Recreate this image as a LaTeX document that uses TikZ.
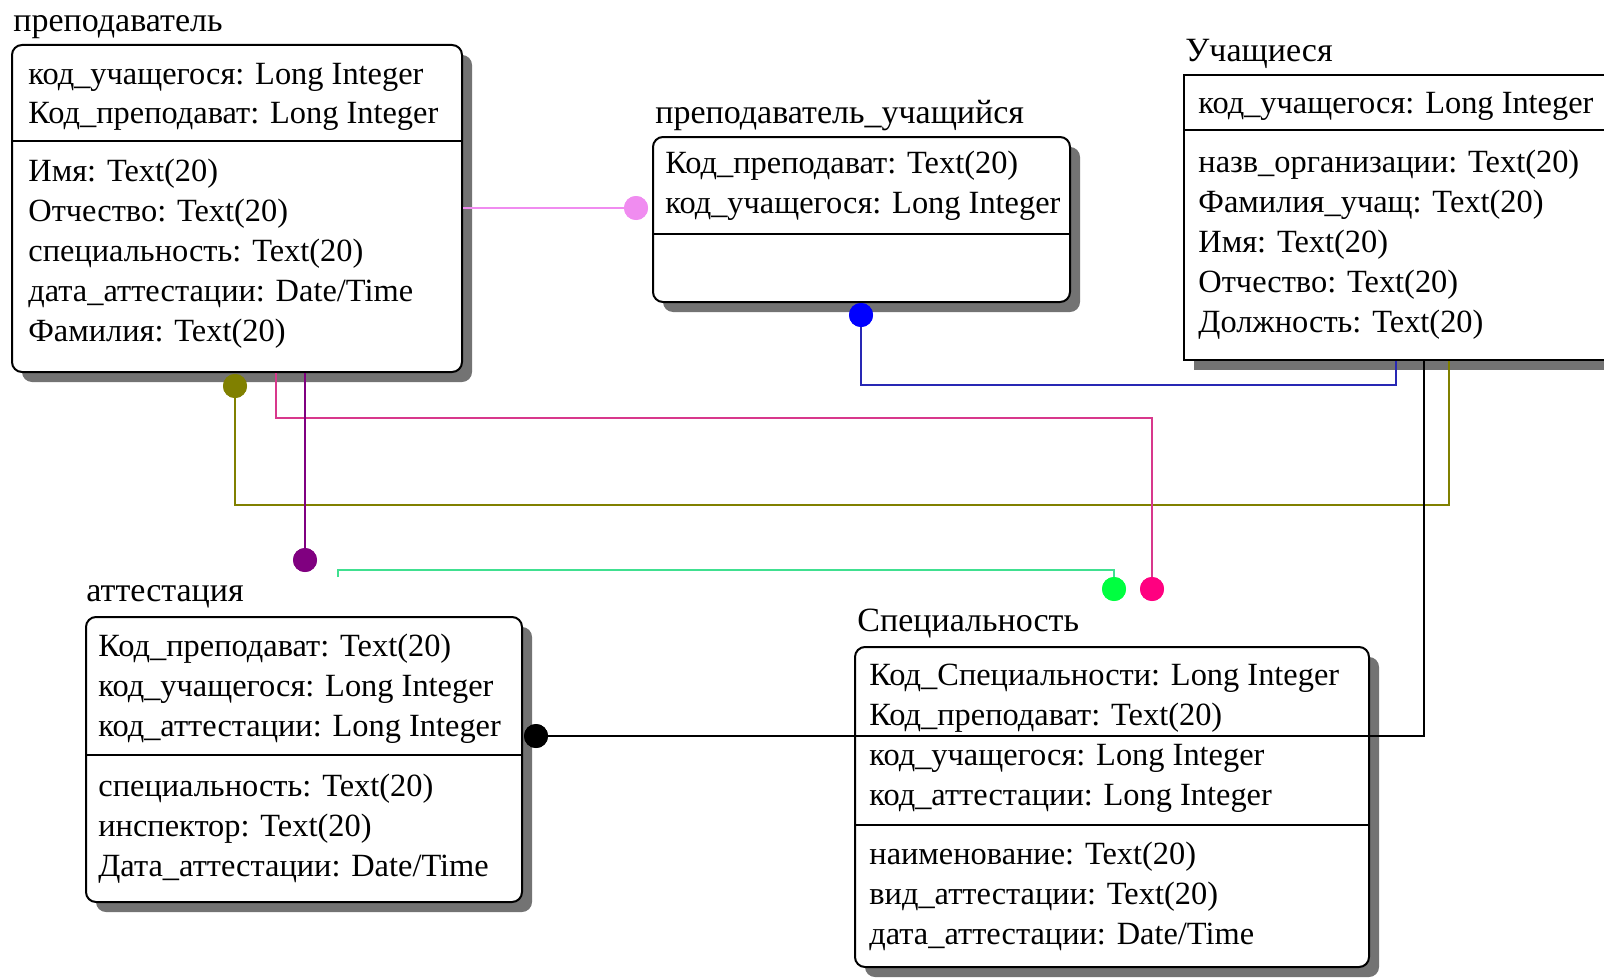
\documentclass[tikz,border=0pt]{standalone}
\usepackage{fontspec}
\setmainfont{Liberation Serif}
\usetikzlibrary{fit, shadows}
\definecolor{orchidline}{HTML}{F08CF0}
\definecolor{bluedot}{HTML}{0000FF}
\definecolor{blueline}{HTML}{2828B4}
\definecolor{olivedot}{HTML}{808000}
\definecolor{roseline}{HTML}{D8388C}
\definecolor{rosedot}{HTML}{FF0080}
\definecolor{purpledot}{HTML}{800080}
\definecolor{greenline}{HTML}{40E090}
\definecolor{greendot}{HTML}{00FF40}

\begin{document}
\begin{tikzpicture}[
  x=0.5pt, y=-0.5pt,
  tbl/.style={draw, line width=1pt, fill=white, rounded corners=5pt, inner sep=0pt,
    drop shadow={shadow xshift=5pt, shadow yshift=-5pt, fill=black!55, opacity=1}},
  fld/.style={anchor=base west, inner sep=0pt, align=left, font=\fontsize{16.2}{20}\selectfont},
  ttl/.style={anchor=base west, inner sep=0pt, font=\fontsize{17}{20}\selectfont},
  sep/.style={line width=0.9pt},
  link/.style={line width=0.9pt},
  dot/.style={circle, inner sep=0pt, minimum size=12pt}
]
\useasboundingbox (0,0) rectangle (1604,979);
\clip (0,0) rectangle (1604,979);

% tables (field nodes sit on the baseline of their last line)
\node[tbl, fit={(12,45) (462,372)}] (prep) {};
\node[ttl] (prepname) at (13,32) {преподаватель};
\node[fld] (prepkey) at (28,124) {код\_учащегося: Long Integer\\Код\_преподават: Long Integer};
\node[fld] (prepattr) at (28,341) {Имя: Text(20)\\Отчество: Text(20)\\специальность: Text(20)\\дата\_аттестации: Date/Time\\Фамилия: Text(20)};
\draw[sep] (prep.west |- 0,141) -- (prep.east |- 0,141);

\node[tbl, fit={(653,137) (1070,302)}] (pu) {};
\node[ttl] (puname) at (655,124) {преподаватель\_учащийся};
\node[fld] (pukey) at (665,213) {Код\_преподават: Text(20)\\код\_учащегося: Long Integer};
\draw[sep] (pu.west |- 0,234) -- (pu.east |- 0,234);

\node[tbl, rounded corners=0pt, fit={(1184,75) (1650,360)}] (stud) {};
\node[ttl] (studname) at (1185,62) {Учащиеся};
\node[fld] (studkey) at (1198,113) {код\_учащегося: Long Integer};
\node[fld] (studattr) at (1198,332) {назв\_организации: Text(20)\\Фамилия\_учащ: Text(20)\\Имя: Text(20)\\Отчество: Text(20)\\Должность: Text(20)};
\draw[sep] (stud.west |- 0,130) -- (stud.east |- 0,130);

\node[tbl, fit={(86,617) (522,902)}] (att) {};
\node[ttl] (attname) at (86,601) {аттестация};
\node[fld] (attkey) at (98,736) {Код\_преподават: Text(20)\\код\_учащегося: Long Integer\\код\_аттестации: Long Integer};
\node[fld] (attattr) at (98,876) {специальность: Text(20)\\инспектор: Text(20)\\Дата\_аттестации: Date/Time};
\draw[sep] (att.west |- 0,755) -- (att.east |- 0,755);

\node[tbl, fit={(855,647) (1369,967)}] (spec) {};
\node[ttl] (specname) at (857,631) {Специальность};
\node[fld] (speckey) at (869,805) {Код\_Специальности: Long Integer\\Код\_преподават: Text(20)\\код\_учащегося: Long Integer\\код\_аттестации: Long Integer};
\node[fld] (specattr) at (869,944) {наименование: Text(20)\\вид\_аттестации: Text(20)\\дата\_аттестации: Date/Time};
\draw[sep] (spec.west |- 0,825) -- (spec.east |- 0,825);

% relationship ends
\node[dot, fill=orchidline] (dotP) at (636,208) {};
\node[dot, fill=bluedot] (dotB) at (861,315) {};
\node[dot, fill=olivedot] (dotO) at (235,386) {};
\node[dot, fill=purpledot] (dotU) at (305,560) {};
\node[dot, fill=greendot] (dotG) at (1114,589) {};
\node[dot, fill=rosedot] (dotR) at (1152,589) {};
\node[dot, fill=black] (dotK) at (536,736) {};
\coordinate (grEnd) at (338,577);

% connectors
\draw[link, orchidline] (prep.east |- dotP) -- (dotP.center);
\draw[link, blueline] (dotB.center) -- ++(0,70) -| (1396,0 |- stud.south);
\draw[link, olivedot] (dotO.center) -- ++(0,119) -| (1449,0 |- stud.south);
\draw[link, roseline] (276,0 |- prep.south) -- ++(0,45) -| (dotR.center);
\draw[link, purpledot] (dotU |- prep.south) -- (dotU.center);
\draw[link, greenline] (grEnd) -- ++(0,-7) -| (dotG.center);
\draw[link, black] (1424,0 |- stud.south) |- (dotK.center);

% dots again on top of the lines
\node[dot, fill=orchidline] at (dotP) {};
\node[dot, fill=bluedot] at (dotB) {};
\node[dot, fill=olivedot] at (dotO) {};
\node[dot, fill=purpledot] at (dotU) {};
\node[dot, fill=greendot] at (dotG) {};
\node[dot, fill=rosedot] at (dotR) {};
\node[dot, fill=black] at (dotK) {};
\end{tikzpicture}
\end{document}
